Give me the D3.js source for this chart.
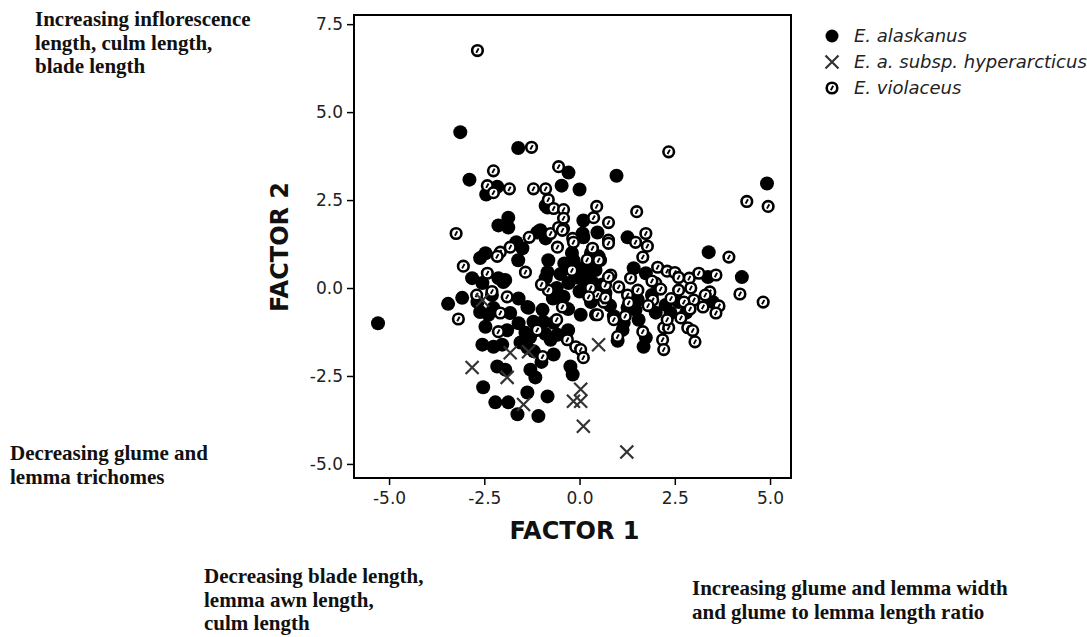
<!DOCTYPE html>
<meta charset="utf-8">
<style>
body { margin: 0; background: #fff; }
.frame { fill: none; stroke: #000; stroke-width: 2px; }
.axis path { display: none; }
.axis line { stroke: #000; stroke-width: 1.5px; }
.axis text { font: 17px "DejaVu Sans", sans-serif; fill: #222; }
.title { font: bold 24px "DejaVu Sans", sans-serif; fill: #111; }
.note { font: bold 21px "Liberation Serif", "Times New Roman", serif; fill: #111; }
.legend text { font: italic 18px "DejaVu Sans", sans-serif; fill: #222; }
</style>
<body>
<script src="https://d3js.org/d3.v7.min.js"></script>
<script>

// E. alaskanus  [factor 1, factor 2]
var alaskanus = [
  [-5.29,-1.0], [-3.13,4.43], [-1.61,3.98], [-0.29,3.28], [-2.89,3.08], [-2.16,2.88],
  [-2.45,2.66], [-0.47,2.91], [0.0,2.8], [0.97,3.19], [4.92,2.97], [-0.89,2.34],
  [-0.84,2.29], [-1.87,2.0], [-2.13,1.78], [-1.87,1.72], [-1.03,1.64], [-1.11,1.58],
  [-0.89,1.41], [0.1,1.92], [0.08,1.55], [0.1,1.44], [0.47,1.58], [1.26,1.44],
  [-1.66,1.3], [-1.5,1.13], [-2.47,0.99], [-2.61,0.85], [-1.61,0.79], [-2.82,0.28],
  [-2.55,0.14], [-2.13,0.28], [-1.95,0.23], [-2.0,0.17], [-0.82,0.79], [-0.84,0.45],
  [-0.89,0.28], [-0.16,0.79], [0.08,0.51], [-0.29,0.14], [-0.42,-0.25], [0.03,-0.76],
  [-0.1,0.6], [0.2,0.3], [0.4,0.6], [0.6,0.1], [0.0,-0.1], [0.3,1.0], [-0.2,1.0],
  [0.42,0.51], [0.68,-0.14], [1.42,0.56], [1.74,0.42], [3.39,1.02], [3.37,0.31],
  [4.26,0.31], [3.5,-0.4], [2.26,-0.48], [2.39,-0.71], [1.68,-1.67], [1.74,-1.41],
  [1.16,-0.99], [1.13,-1.19], [1.55,-0.9], [1.47,-0.62], [1.26,-0.56], [1.53,-0.34],
  [-3.45,-0.45], [-3.08,-0.28], [-2.61,-0.68], [-2.68,-0.4], [-2.39,-0.76], [-2.47,-1.1],
  [-2.26,-0.57], [-1.82,-0.71], [-1.37,-0.54], [-0.97,-0.62], [-1.21,-0.96], [-0.95,-0.96],
  [-1.42,-1.27], [-0.68,-0.99], [-0.58,-1.33], [-0.76,-1.47], [-1.34,-0.56], [-1.11,-1.19],
  [-2.55,-1.61], [-2.26,-1.67], [-2.03,-1.61], [-1.55,-1.55], [-1.37,-1.69], [-0.68,-1.89],
  [-2.16,-2.23], [-1.95,-2.32], [-1.29,-2.32], [-1.16,-2.54], [-1.37,-2.97], [-0.84,-3.08],
  [-2.53,-2.82], [-2.21,-3.25], [-1.87,-3.25], [-1.63,-3.59], [-1.08,-3.64], [-0.24,-2.23],
  [-0.18,-2.46], [-0.6,0.0], [-0.5,0.4], [0.5,0.9], [0.3,-0.4], [-0.3,-0.6], [0.8,-0.5],
  [-0.7,-0.3], [0.1,0.2], [1.9,-0.2], [2.0,-0.7], [2.6,-0.4], [2.8,-0.7], [1.0,-1.5],
  [-1.9,-1.2], [-1.6,-0.3], [-1.2,-1.8], [-1.0,-2.1], [-2.3,-0.2], [-0.3,-1.2],
  [0.2,0.7], [-0.1,0.3], [0.35,0.15], [-0.4,0.7], [-1.3,-1.4], [-0.9,-1.3], [-1.6,-1.0],
  [0.9,-0.8]
];

// E. a. subsp. hyperarcticus
var hyperarcticus = [
  [-2.55,-0.35], [-2.82,-2.26], [-1.82,-1.84], [-1.34,-1.81], [-1.9,-2.54], [-1.47,-3.31],
  [0.03,-2.88], [-0.16,-3.22], [0.03,-3.22], [0.1,-3.93], [1.24,-4.66], [0.5,-1.61]
];

// E. violaceus
var violaceus = [
  [-2.68,6.75], [2.34,3.87], [-1.26,4.0], [-2.26,3.33], [-0.55,3.45], [-2.42,2.91],
  [-2.26,2.71], [-1.84,2.82], [-1.21,2.82], [-0.89,2.82], [-0.82,2.51], [-0.68,2.26],
  [-0.42,2.23], [-0.42,1.98], [-3.24,1.55], [-1.32,1.44], [-0.76,1.55], [-0.55,1.72],
  [-0.42,1.69], [-0.18,1.41], [-0.58,1.16], [-1.82,1.16], [-2.08,1.02], [-2.16,0.9],
  [-3.05,0.62], [-2.42,0.42], [-1.42,0.45], [-0.45,1.64], [-0.16,1.3], [0.34,1.13],
  [0.55,0.79], [0.45,2.32], [0.37,2.0], [0.76,1.86], [0.76,1.36], [1.5,2.17],
  [4.39,2.46], [4.95,2.32], [3.92,0.88], [1.74,1.55], [1.78,1.19], [1.66,0.88],
  [1.47,1.3], [2.05,0.59], [2.3,0.48], [2.5,0.44], [2.88,0.28], [3.13,0.42],
  [3.58,0.37], [4.21,-0.17], [4.82,-0.4], [2.0,0.14], [2.13,-0.03], [2.6,-0.06],
  [2.92,0.0], [3.42,-0.11], [3.66,-0.51], [3.24,-0.54], [3.58,-0.71], [3.0,-0.34],
  [2.74,-0.4], [1.92,-0.34], [2.66,-0.85], [2.21,-1.13], [2.34,-1.13], [2.84,-1.13],
  [2.97,-1.21], [3.03,-1.53], [2.18,-1.47], [2.21,-1.75], [1.66,-1.24], [1.0,-1.38],
  [1.26,-0.2], [1.29,-0.42], [1.03,0.03], [1.34,0.28], [1.53,-0.06], [0.82,0.37],
  [0.68,0.08], [0.47,-0.2], [0.42,-0.76], [0.63,-0.4], [0.76,1.27], [0.5,0.79],
  [-3.18,-0.88], [-2.13,-1.24], [-1.9,-0.25], [-2.08,-0.71], [-1.11,-1.19], [-0.32,-1.47],
  [-0.1,-1.67], [0.03,-1.75], [0.1,-1.98], [-0.97,-1.95], [0.29,0.0], [0.24,-0.25],
  [-0.45,-0.54], [-0.82,-0.06], [0.76,0.31], [0.68,-0.28], [0.47,-0.76], [1.8,-0.5],
  [2.4,-0.3], [2.9,-0.6], [3.3,-0.2], [1.2,-0.8], [0.9,-0.9], [-0.2,0.5], [0.2,0.8],
  [-1.0,0.1], [-0.6,-0.9], [-2.7,-0.2], [-2.3,-0.1], [2.6,0.3], [1.9,0.2], [2.3,-0.9]
];

var xTicks = [-5, -2.5, 0, 2.5, 5];
var yTicks = [-5, -2.5, 0, 2.5, 5, 7.5];
var legendLabels = ["E. alaskanus", "E. a. subsp. hyperarcticus", "E. violaceus"];

var notes = [
  {x: 35, y: 26, lines: ["Increasing inflorescence", "length, culm length,", "blade length"]},
  {x: 10, y: 460, lines: ["Decreasing glume and", "lemma trichomes"]},
  {x: 204, y: 583, lines: ["Decreasing blade length,", "lemma awn length,", "culm length"]},
  {x: 692, y: 595, lines: ["Increasing glume and lemma width", "and glume to lemma length ratio"]}
];

var W = 1087, H = 637;
var plot = {left: 354, right: 791, top: 15, bottom: 478};

var svg = d3.select("body").append("svg")
    .attr("width", W)
    .attr("height", H);

var x = d3.scaleLinear().domain([-5.92, 5.55]).range([plot.left, plot.right]);
var y = d3.scaleLinear().domain([-5.40, 7.76]).range([plot.bottom, plot.top]);

var fmt = function(d) { return d.toFixed(1); };

svg.append("g")
    .attr("class", "axis")
    .attr("transform", "translate(0," + plot.bottom + ")")
    .call(d3.axisBottom(x).tickValues(xTicks).tickFormat(fmt).tickSize(7).tickPadding(7));

svg.append("g")
    .attr("class", "axis")
    .attr("transform", "translate(" + plot.left + ",0)")
    .call(d3.axisLeft(y).tickValues(yTicks).tickFormat(fmt).tickSize(7).tickPadding(4));

// markers
var g = svg.append("g");

g.selectAll(".ala")
    .data(alaskanus)
  .enter().append("circle")
    .attr("cx", function(d) { return x(d[0]); })
    .attr("cy", function(d) { return y(d[1]); })
    .attr("r", 7)
    .style("fill", "#000");

function drawViolaceus(sel) {
  sel.append("circle")
      .attr("r", 5.3)
      .style("fill", "#fff")
      .style("stroke", "#000")
      .style("stroke-width", 2.6);
  sel.append("line")
      .attr("x1", 1.2).attr("y1", -2.2)
      .attr("x2", -1.2).attr("y2", 2.2)
      .style("stroke", "#000")
      .style("stroke-width", 1.9);
}

function drawCross(sel) {
  sel.append("path")
      .attr("d", "M-6.5,-6.5L6.5,6.5M-6.5,6.5L6.5,-6.5")
      .style("stroke", "#333")
      .style("stroke-width", 2.2)
      .style("fill", "none");
}

g.selectAll(".vio")
    .data(violaceus)
  .enter().append("g")
    .attr("transform", function(d) { return "translate(" + x(d[0]) + "," + y(d[1]) + ")"; })
    .call(drawViolaceus);

g.selectAll(".hyp")
    .data(hyperarcticus)
  .enter().append("g")
    .attr("transform", function(d) { return "translate(" + x(d[0]) + "," + y(d[1]) + ")"; })
    .call(drawCross);

// frame
svg.append("rect")
    .attr("class", "frame")
    .attr("x", plot.left)
    .attr("y", plot.top)
    .attr("width", plot.right - plot.left)
    .attr("height", plot.bottom - plot.top);

// axis titles
svg.append("text")
    .attr("class", "title")
    .attr("x", (plot.left + plot.right) / 2 + 2)
    .attr("y", 539)
    .attr("text-anchor", "middle")
    .text("FACTOR 1");

svg.append("text")
    .attr("class", "title")
    .attr("transform", "translate(288,247) rotate(-90)")
    .attr("text-anchor", "middle")
    .text("FACTOR 2");

// legend
var legend = svg.append("g").attr("class", "legend");
var rowY = [36, 62, 88];
legendLabels.forEach(function(label, i) {
  var row = legend.append("g").attr("transform", "translate(832," + rowY[i] + ")");
  if (i === 0) row.append("circle").attr("r", 6.5).style("fill", "#000");
  if (i === 1) row.call(drawCross);
  if (i === 2) row.call(drawViolaceus);
  row.append("text")
      .attr("x", 22)
      .attr("dy", "0.35em")
      .text(label);
});

// annotations
notes.forEach(function(n) {
  var t = svg.append("text").attr("class", "note");
  n.lines.forEach(function(line, i) {
    t.append("tspan").attr("x", n.x).attr("y", n.y + i * 23.7).text(line);
  });
});

</script>
</body>
